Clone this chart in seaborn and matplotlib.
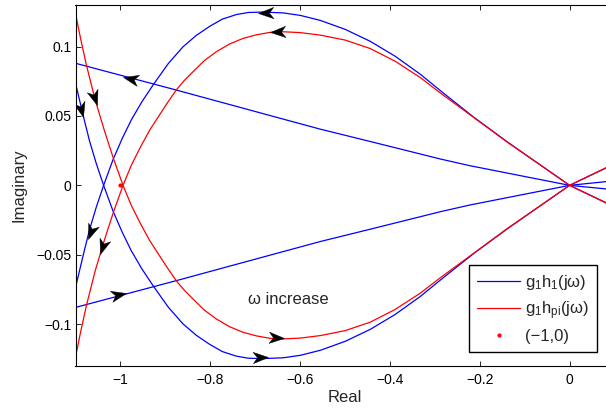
import math
import matplotlib
matplotlib.use("Agg")
import matplotlib.pyplot as plt
from matplotlib.markers import MarkerStyle
from matplotlib.path import Path
from matplotlib.transforms import Affine2D
from matplotlib.lines import Line2D
import seaborn as sns

# ---- g1*h1(jw): Nyquist loop, one frequency branch (right end -> far left)
h1_loop_a_re = [0.0817, 0.0, -0.0652, -0.1394, -0.2137, -0.2878, -0.3324, -0.3880,
                -0.4437, -0.4993, -0.5550, -0.5995, -0.6374, -0.6841, -0.7153, -0.7420,
                -0.7732, -0.8014, -0.8310, -0.8606, -0.8934, -0.9274, -0.9524, -0.9757,
                -0.9958, -1.0165, -1.0374, -1.0537, -1.0686, -1.0797, -1.0893, -1.1]
h1_loop_a_im = [-0.0126, 0.0, 0.0147, 0.0315, 0.0492, 0.0683, 0.0801, 0.0930,
                0.1038, 0.1124, 0.1189, 0.1225, 0.1243, 0.1249, 0.1246, 0.1231,
                0.1198, 0.1146, 0.1081, 0.0999, 0.0878, 0.0723, 0.0601, 0.0472,
                0.0339, 0.0185, 0.0, -0.0157, -0.0318, -0.0462, -0.0591, -0.0738]
# conjugate branch
h1_loop_b_re = [0.0817, 0.0, -0.0652, -0.1394, -0.2137, -0.2878, -0.3324, -0.3880,
                -0.4437, -0.4993, -0.5550, -0.5995, -0.6374, -0.6841, -0.7153, -0.7420,
                -0.7732, -0.8014, -0.8310, -0.8606, -0.8934, -0.9274, -0.9524, -0.9757,
                -0.9958, -1.0165, -1.0374, -1.0537, -1.0686, -1.0797, -1.0893, -1.1]
h1_loop_b_im = [0.0126, 0.0, -0.0147, -0.0315, -0.0492, -0.0683, -0.0801, -0.0930,
                -0.1038, -0.1124, -0.1189, -0.1225, -0.1243, -0.1249, -0.1246, -0.1231,
                -0.1198, -0.1146, -0.1081, -0.0999, -0.0878, -0.0723, -0.0601, -0.0472,
                -0.0339, -0.0185, 0.0, 0.0157, 0.0318, 0.0462, 0.0591, 0.0738]

# ---- g1*h1(jw): nearly straight branches through the origin
h1_ray_a_re = [0.0817, 0.0, -0.2217, -0.2878, -0.4437, -0.555, -0.653, -0.8756, -1.1]
h1_ray_a_im = [-0.0026, 0.0, 0.01415, 0.0190, 0.0316, 0.0405, 0.0491, 0.0687, 0.088]
h1_ray_b_re = [0.0817, 0.0, -0.2217, -0.2878, -0.4437, -0.555, -0.653, -0.8756, -1.1]
h1_ray_b_im = [0.0027, 0.0, -0.01415, -0.0190, -0.0316, -0.0405, -0.0491, -0.0687, -0.088]

# ---- g1*hpi(jw): Nyquist loop
hpi_loop_a_re = [0.0817, 0.0, -0.0652, -0.1394, -0.2137, -0.2878, -0.3324, -0.3880,
                 -0.4437, -0.4993, -0.5550, -0.5995, -0.6374, -0.6663, -0.6975, -0.7271,
                 -0.7576, -0.7865, -0.8132, -0.8384, -0.8577, -0.8756, -0.8978, -0.9201,
                 -0.9350, -0.9557, -0.9757, -0.9942, -1.0158, -1.0352, -1.0559, -1.0759,
                 -1.0882, -1.1]
hpi_loop_a_im = [-0.0128, 0.0, 0.0147, 0.0313, 0.0490, 0.0666, 0.0777, 0.0894,
                 0.0986, 0.1047, 0.1083, 0.1101, 0.1107, 0.1103, 0.1085, 0.1059,
                 0.1018, 0.0963, 0.0899, 0.0819, 0.0756, 0.0688, 0.0583, 0.0472,
                 0.0397, 0.0274, 0.0145, 0.0, -0.0196, -0.0390, -0.0613, -0.0869,
                 -0.1051, -0.1238]
hpi_loop_b_re = [0.0817, 0.0, -0.0652, -0.1394, -0.2137, -0.2878, -0.3324, -0.3880,
                 -0.4437, -0.4993, -0.5550, -0.5995, -0.6374, -0.6663, -0.6975, -0.7271,
                 -0.7576, -0.7865, -0.8132, -0.8384, -0.8577, -0.8756, -0.8978, -0.9201,
                 -0.9350, -0.9557, -0.9757, -0.9942, -1.0158, -1.0352, -1.0559, -1.0759,
                 -1.0882, -1.1]
hpi_loop_b_im = [0.0128, 0.0, -0.0147, -0.0313, -0.0490, -0.0666, -0.0777, -0.0894,
                 -0.0986, -0.1047, -0.1083, -0.1101, -0.1107, -0.1103, -0.1085, -0.1059,
                 -0.1018, -0.0963, -0.0899, -0.0819, -0.0756, -0.0688, -0.0583, -0.0472,
                 -0.0397, -0.0274, -0.0145, 0.0, 0.0196, 0.0390, 0.0613, 0.0869,
                 0.1051, 0.1238]

# critical point
critical_re = [-1.0]
critical_im = [0.0]

# direction arrows: (tip_re, tip_im, tail_re, tail_im)
arrow_tips = [
    (-0.6937, 0.1243, -0.6603, 0.1246),
    (-0.6663, 0.1102, -0.6329, 0.1106),
    (-0.9942, 0.0783, -0.9573, 0.0756),
    (-1.0526, 0.0580, -1.0640, 0.0690),
    (-1.0830, 0.0491, -1.0920, 0.0601),
    (-1.0721, -0.0390, -1.0610, -0.0295),
    (-1.0463, -0.0498, -1.0352, -0.0390),
    (-0.9869, -0.0773, -1.0203, -0.0797),
    (-0.6367, -0.1103, -0.6696, -0.1098),
    (-0.6714, -0.1240, -0.7108, -0.1244),
]

legend_labels = [r"g$_1$h$_1$(j$\omega$)", r"g$_1$h$_{\mathrm{pi}}$(j$\omega$)", "(\u22121,0)"]
annotation_text = "\u03c9 increase"

x_ticks = [-1.0, -0.8, -0.6, -0.4, -0.2, 0.0]
x_tick_labels = ["\u22121", "\u22120.8", "\u22120.6", "\u22120.4", "\u22120.2", "0"]
y_ticks = [-0.1, -0.05, 0.0, 0.05, 0.1]
y_tick_labels = ["\u22120.1", "\u22120.05", "0", "0.05", "0.1"]

BLUE = "#0000ff"
RED = "#ff0000"

sns.set_theme(style="white")
plt.rcParams["font.family"] = ["Liberation Sans", "DejaVu Sans"]
plt.rcParams["mathtext.fontset"] = "custom"
plt.rcParams["mathtext.rm"] = "Liberation Sans"
plt.rcParams["mathtext.it"] = "Liberation Sans"
plt.rcParams["mathtext.bf"] = "Liberation Sans:bold"

fig = plt.figure(figsize=(6.06, 4.12), dpi=100)
ax = fig.add_axes([75.5 / 606, 1 - 365.7 / 412, 539.0 / 606, 360.7 / 412])

lw = 0.9
for xs, ys in [(h1_loop_a_re, h1_loop_a_im), (h1_loop_b_re, h1_loop_b_im),
               (h1_ray_a_re, h1_ray_a_im), (h1_ray_b_re, h1_ray_b_im)]:
    sns.lineplot(x=xs, y=ys, sort=False, estimator=None, color=BLUE, lw=lw, ax=ax)
for xs, ys in [(hpi_loop_a_re, hpi_loop_a_im), (hpi_loop_b_re, hpi_loop_b_im)]:
    sns.lineplot(x=xs, y=ys, sort=False, estimator=None, color=RED, lw=lw, ax=ax)
ax.plot(critical_re, critical_im, ".", color=RED, ms=4)

ax.set_xlim(-1.1, 0.1)
ax.set_ylim(-0.13, 0.13)
ax.set_xticks(x_ticks)
ax.set_xticklabels(x_tick_labels)
ax.set_yticks(y_ticks)
ax.set_yticklabels(y_tick_labels)
ax.tick_params(axis="both", direction="in", length=3.6, width=0.6, colors="black",
               labelsize=10, top=True, right=True, bottom=True, left=True)
ax.tick_params(axis="x", pad=5)
ax.tick_params(axis="y", pad=3)
for sp in ax.spines.values():
    sp.set_color("black")
    sp.set_linewidth(0.8)

ax.set_xlabel("Real", fontsize=12, va="center")
ax.set_ylabel("Imaginary", fontsize=12, va="center", ha="center")
ax.xaxis.set_label_coords(0.5, -(398 - 365.7) / 360.7)
ax.yaxis.set_label_coords((19 - 75.5) / 539.0, 0.5)

ax.text(-0.716, -0.0821, annotation_text, fontsize=12, ha="left", va="center")

# arrowheads (notched), oriented along the curve in screen space
arrow_path = Path([(0, 0), (-1, 0.37), (-0.72, 0), (-1, -0.37), (0, 0)],
                  [Path.MOVETO, Path.LINETO, Path.LINETO, Path.LINETO, Path.CLOSEPOLY])
for tx, ty, bx, by in arrow_tips:
    p1 = ax.transData.transform((tx, ty))
    p0 = ax.transData.transform((bx, by))
    ang = math.degrees(math.atan2(p1[1] - p0[1], p1[0] - p0[0]))
    m = MarkerStyle(arrow_path, transform=Affine2D().rotate_deg(ang))
    ax.plot([tx], [ty], marker=m, ms=22, color="black", mec="black", mew=0.3,
            linestyle="none", zorder=5)

handles = [Line2D([], [], color=BLUE, lw=lw),
           Line2D([], [], color=RED, lw=lw),
           Line2D([], [], color=RED, marker=".", ms=4, linestyle="none")]
leg = ax.legend(handles, legend_labels, loc="lower right",
                bbox_to_anchor=(596.7 / 606, 1 - 351.7 / 412),
                bbox_transform=fig.transFigure, fontsize=12, frameon=True,
                fancybox=False, framealpha=1, edgecolor="black",
                handlelength=2.6, handletextpad=0.3, borderpad=0.45,
                labelspacing=0.45, borderaxespad=0)
leg.get_frame().set_linewidth(1.0)

fig.savefig("out.png", dpi=100)
